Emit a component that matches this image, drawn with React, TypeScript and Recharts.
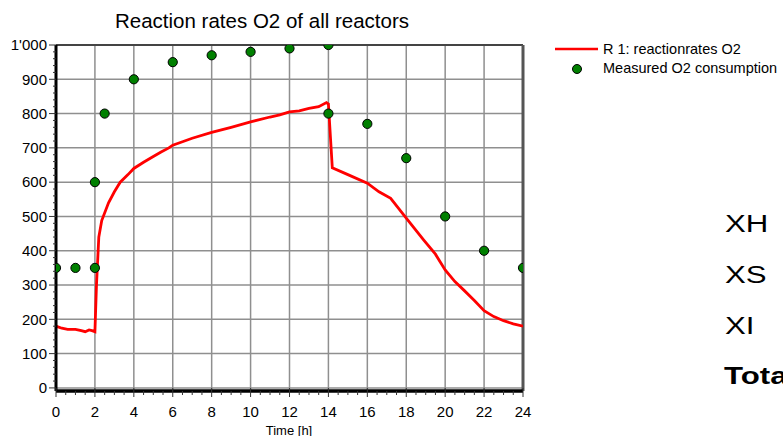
import React from 'react';
import { ComposedChart, Line, Scatter, XAxis, YAxis, CartesianGrid, ReferenceLine, Legend } from 'recharts';

// ---- data ----
const rateTime = [0, 0.3, 0.6, 1.0, 1.3, 1.5, 1.7, 1.85, 2.0, 2.08, 2.2, 2.35, 2.7, 3.0, 3.3, 3.7, 4.0, 4.5, 5.0, 5.4, 5.8, 6.0, 6.5, 7.0, 8.0, 9.0, 10.0, 11.0, 11.5, 12.0, 12.5, 13.0, 13.5, 13.9, 14.0, 14.2, 15.0, 16.0, 16.6, 17.2, 18.0, 18.9, 19.5, 20.0, 20.5, 21.0, 21.5, 22.0, 22.5, 23.0, 23.5, 24.0];
const rateO2 = [180, 174, 171, 171, 167, 164, 169, 167, 164, 300, 440, 488, 540, 572, 600, 622, 640, 658, 675, 688, 700, 708, 718, 728, 745, 760, 776, 790, 796, 805, 808, 815, 820, 832, 828, 642, 622, 597, 572, 553, 495, 431, 390, 344, 310, 283, 255, 225, 208, 196, 187, 180];

const measTime = [0, 1, 2, 2, 2.5, 4, 6, 8, 10, 12, 14, 14, 16, 18, 20, 22, 24];
const measO2 = [350, 350, 350, 600, 800, 900, 950, 970, 980, 990, 1000, 800, 770, 670, 500, 400, 350];

const xMajorTicks = [0, 2, 4, 6, 8, 10, 12, 14, 16, 18, 20, 22, 24];
const xMinorTicks = Array.from({ length: 49 }, (_, i) => i * 0.5);
const yMajorTicks = [0, 100, 200, 300, 400, 500, 600, 700, 800, 900, 1000];
const yMinorTicks = Array.from({ length: 51 }, (_, i) => i * 20);

const title = 'Reaction rates O2 of all reactors';
const xLabel = 'Time [h]';
const lineName = 'R 1: reactionrates O2';
const dotName = 'Measured O2 consumption';
const sideLabels = ['XH', 'XS', 'XI'];
const sideTotal = 'Tota';

const rateData = rateTime.map((t, i) => ({ t, v: rateO2[i] }));
const measData = measTime.map((t, i) => ({ t, v: measO2[i] }));

const FONT = '"Liberation Sans", Arial, sans-serif';

const fmtY = (v: number) => (v === 1000 ? "1'000" : String(v));

const XTick = (props: any) => {
  const { x, y, payload } = props;
  const v = payload.value;
  const major = Math.abs(v % 2) < 1e-9;
  return (
    <g>
      <line x1={x} x2={x} y1={major ? y - 3 : y} y2={major ? y + 6 : y + 4} stroke="#333" strokeWidth={1} />
      {major && (
        <text x={x} y={y + 26} textAnchor="middle" fontFamily={FONT} fontSize={15} fill="#000">
          {v}
        </text>
      )}
    </g>
  );
};

const YTick = (props: any) => {
  const { x, y, payload } = props;
  const v = payload.value;
  const major = v % 100 === 0;
  return (
    <g>
      <line x1={major ? x - 7 : x - 3} x2={x} y1={y} y2={y} stroke="#333" strokeWidth={1} />
      {major && (
        <text x={x - 9} y={y + 5.3} textAnchor="end" fontFamily={FONT} fontSize={15} fill="#000">
          {fmtY(v)}
        </text>
      )}
    </g>
  );
};

const LegendContent = () => (
  <svg width={240} height={45} style={{ display: 'block', overflow: 'visible' }}>
    <line x1={5} x2={48} y1={11} y2={11} stroke="#ff0000" strokeWidth={2.5} />
    <text x={53} y={16} fontFamily={FONT} fontSize={14.5} fill="#000">{lineName}</text>
    <circle cx={27} cy={31} r={4.5} fill="#008000" stroke="#000" strokeWidth={1} />
    <text x={53} y={35} fontFamily={FONT} fontSize={14.5} fill="#000">{dotName}</text>
  </svg>
);

const DotShape = (props: any) => {
  const { cx, cy } = props;
  if (cx == null || cy == null) return null;
  return <circle cx={cx} cy={cy} r={4.6} fill="#008000" stroke="#000" strokeWidth={1} />;
};

export default function App() {
  return (
    <div style={{ position: 'relative', width: 783, height: 436, overflow: 'hidden', background: '#fff' }}>
      <style>{`body{margin:0;}`}</style>
      <ComposedChart width={783} height={436} margin={{ top: 45, right: 260, bottom: 0, left: 0 }}>
        <CartesianGrid
          stroke="#8f8f8f"
          strokeWidth={1.5}
          horizontalValues={yMajorTicks}
          verticalValues={xMajorTicks}
        />
        <XAxis
          type="number"
          dataKey="t"
          domain={[0, 24]}
          ticks={xMinorTicks}
          interval={0}
          tickSize={0}
          tickMargin={0}
          tick={<XTick />}
          tickLine={false}
          axisLine={{ stroke: '#000', strokeWidth: 3.5 }}
          height={45}
          allowDataOverflow
        />
        <YAxis
          type="number"
          domain={[-9, 1000]}
          ticks={yMinorTicks}
          interval={0}
          tickSize={0}
          tickMargin={0}
          tick={<YTick />}
          tickLine={false}
          axisLine={{ stroke: '#000', strokeWidth: 3 }}
          width={56}
          allowDataOverflow
        />
        <ReferenceLine y={1000} stroke="#444" strokeWidth={2} ifOverflow="visible" />
        <ReferenceLine x={24} stroke="#555" strokeWidth={3} ifOverflow="visible" />
        <Line
          data={rateData}
          dataKey="v"
          type="linear"
          stroke="#ff0000"
          strokeWidth={2.8}
          dot={false}
          activeDot={false}
          isAnimationActive={false}
          name={lineName}
        />
        <Scatter
          data={measData}
          dataKey="v"
          shape={<DotShape />}
          isAnimationActive={false}
          name={dotName}
        />
        <Legend
          layout="vertical"
          align="center"
          verticalAlign="middle"
          content={<LegendContent />}
          wrapperStyle={{ position: 'absolute', left: 550, top: 38, width: 240, height: 45 }}
        />
      </ComposedChart>
      <svg width={783} height={436} style={{ position: 'absolute', left: 0, top: 0, pointerEvents: 'none' }}>
        <text x={262} y={28} textAnchor="middle" fontFamily={FONT} fontSize={20.5} fill="#000">{title}</text>
        <text x={289} y={434.5} textAnchor="middle" fontFamily={FONT} fontSize={13} fill="#000">{xLabel}</text>
        {sideLabels.map((s, i) => (
          <text key={s} transform={`translate(725,${231.5 + i * 51}) scale(1.3,1)`} fontFamily={FONT} fontSize={24} fill="#000">{s}</text>
        ))}
        <text transform="translate(724,383.5) scale(1.3,1)" fontFamily={FONT} fontSize={24} fontWeight="bold" fill="#000">{sideTotal}</text>
      </svg>
    </div>
  );
}
